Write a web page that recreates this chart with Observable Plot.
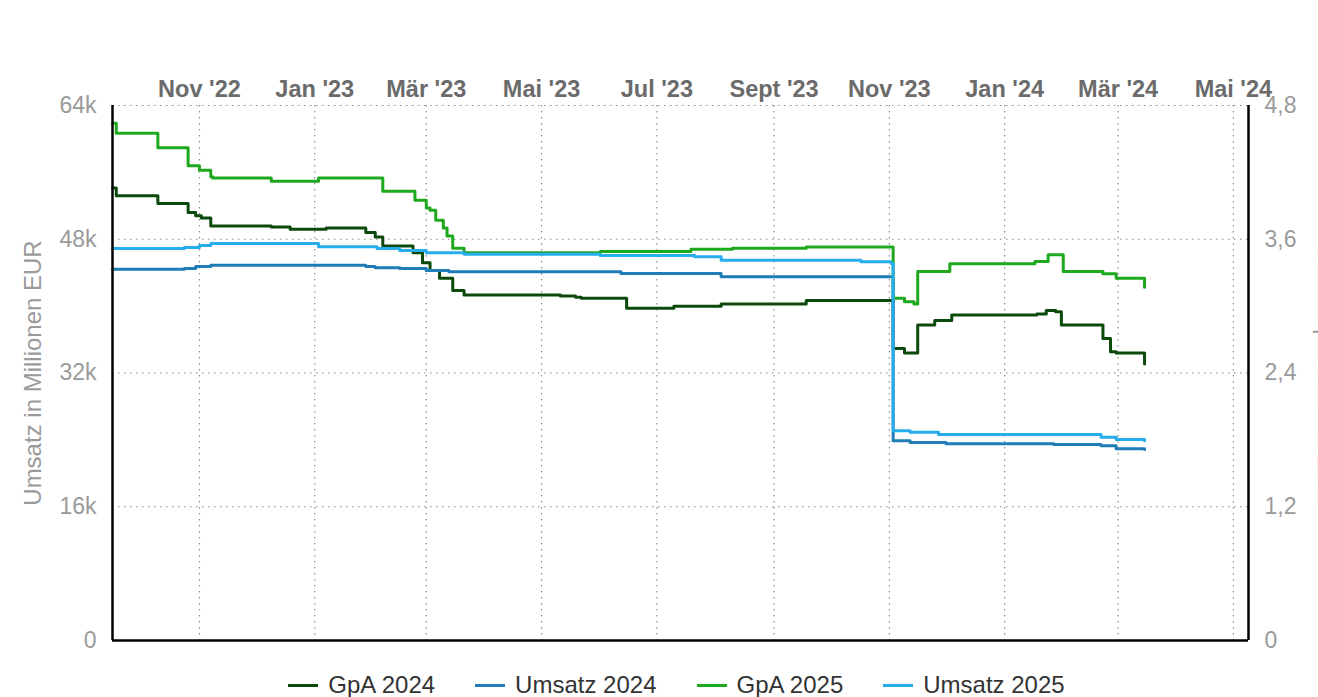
<!DOCTYPE html>
<html><head><meta charset="utf-8">
<script src="https://cdn.jsdelivr.net/npm/d3@7"></script>
<script src="https://cdn.jsdelivr.net/npm/@observablehq/plot@0.6"></script>
<style>
html,body{margin:0;padding:0;overflow:hidden;background:#fff;font-family:"Liberation Sans",Arial,sans-serif;}
#legend{display:flex;justify-content:center;align-items:center;padding-left:35px;padding-top:13px;height:24px;font-size:24px;color:#333;}
.item{display:flex;align-items:center;margin:0 20px;}
.sym{width:30px;height:3px;margin-right:10px;}
</style></head><body>
<div id="chart"></div>
<div id="legend"></div>
<script>
// ---- data ----
const seriesNames = ["GpA 2024", "Umsatz 2024", "GpA 2025", "Umsatz 2025"];
const seriesColors = ["#0c4a0c", "#1f7cb6", "#1ea81e", "#27acec"];

const gpa2024Dates = ["2022-09-16","2022-09-18","2022-10-10","2022-10-26","2022-10-30","2022-11-02","2022-11-07","2022-12-09","2022-12-19","2023-01-07","2023-01-28","2023-02-02","2023-02-06","2023-02-22","2023-02-27","2023-03-03","2023-03-08","2023-03-15","2023-03-21","2023-05-11","2023-05-19","2023-05-22","2023-06-15","2023-07-10","2023-08-04","2023-09-18","2023-11-03","2023-11-09","2023-11-16","2023-11-25","2023-12-04","2024-01-18","2024-01-23","2024-01-28","2024-01-31","2024-02-22","2024-02-26","2024-02-29","2024-03-14","2024-03-15"];
const gpa2024Values = [4.06,3.99,3.92,3.84,3.81,3.79,3.72,3.71,3.69,3.70,3.66,3.62,3.54,3.48,3.39,3.32,3.25,3.14,3.10,3.09,3.08,3.07,2.98,3.00,3.02,3.05,2.62,2.58,2.83,2.87,2.92,2.93,2.96,2.95,2.83,2.71,2.59,2.58,2.58,2.48];

const umsatz2024Dates = ["2022-09-16","2022-10-24","2022-10-30","2022-11-07","2023-01-28","2023-02-02","2023-02-15","2023-03-01","2023-03-13","2023-06-12","2023-08-04","2023-11-03","2023-11-12","2023-12-01","2024-01-27","2024-02-21","2024-02-29","2024-03-15"];
const umsatz2024Values = [44400,44500,44750,44900,44750,44600,44500,44250,44100,43900,43500,23900,23700,23550,23450,23300,22950,22850];

const gpa2025Dates = ["2022-09-16","2022-09-18","2022-10-10","2022-10-26","2022-11-01","2022-11-07","2022-11-08","2022-12-09","2023-01-03","2023-02-06","2023-02-23","2023-03-01","2023-03-03","2023-03-06","2023-03-10","2023-03-12","2023-03-15","2023-03-21","2023-06-01","2023-07-19","2023-08-10","2023-09-18","2023-11-03","2023-11-09","2023-11-14","2023-11-16","2023-12-03","2024-01-17","2024-01-24","2024-02-01","2024-02-22","2024-02-29","2024-03-14","2024-03-15"];
const gpa2025Values = [4.64,4.55,4.42,4.26,4.22,4.16,4.15,4.12,4.15,4.03,3.95,3.88,3.86,3.77,3.70,3.63,3.52,3.48,3.49,3.51,3.52,3.53,3.07,3.04,3.02,3.31,3.38,3.40,3.46,3.31,3.29,3.25,3.25,3.17];

const umsatz2025Dates = ["2022-09-16","2022-10-24","2022-11-01","2022-11-07","2023-01-03","2023-02-03","2023-02-15","2023-03-01","2023-03-21","2023-06-01","2023-07-21","2023-08-04","2023-10-17","2023-11-02","2023-11-03","2023-11-12","2023-11-27","2024-02-21","2024-02-29","2024-03-15"];
const umsatz2025Values = [46900,47000,47250,47500,47100,46900,46650,46400,46200,46050,45900,45500,45300,45100,25100,24900,24650,24300,24050,23900];

const xDomain = ["2022-09-16", "2024-05-09"];
const xTicks = ["2022-11-01","2023-01-01","2023-03-01","2023-05-01","2023-07-01","2023-09-01","2023-11-01","2024-01-01","2024-03-01","2024-05-01"];
const monthNames = ["Jan","Feb","Mär","Apr","Mai","Jun","Jul","Aug","Sept","Okt","Nov","Dez"];
const yTicksLeft = [0, 16000, 32000, 48000, 64000];
const leftMax = 64000, rightMax = 4.8;
const leftTitle = "Umsatz in Millionen EUR";
const rightTitle = "Gewinn pro Aktie in EUR";

// ---- build ----
const toLeft = v => v * leftMax / rightMax;
function rows(name, dates, values, isGpa) {
  return dates.map((d, i) => ({series: name, date: new Date(d), value: isGpa ? toLeft(values[i]) : values[i]}));
}
const data = [
  ...rows(seriesNames[0], gpa2024Dates, gpa2024Values, true),
  ...rows(seriesNames[1], umsatz2024Dates, umsatz2024Values, false),
  ...rows(seriesNames[2], gpa2025Dates, gpa2025Values, true),
  ...rows(seriesNames[3], umsatz2025Dates, umsatz2025Values, false)
];
const xd = xDomain.map(d => new Date(d));
const xt = xTicks.map(d => new Date(d));
const fmtX = d => `${monthNames[d.getUTCMonth()]} '${String(d.getUTCFullYear()).slice(2)}`;
const fmtL = d => d === 0 ? "0" : `${d / 1000}k`;
const fmtR = d => { const v = d / leftMax * rightMax; return v === 0 ? "0" : v.toFixed(1).replace(".", ","); };
const dots = {stroke: "#8a8a8a", strokeOpacity: 1, strokeDasharray: "1.5,4.5", strokeWidth: 1.2};

const chart = Plot.plot({
  width: 1318, height: 660,
  marginLeft: 112, marginRight: 70, marginTop: 105, marginBottom: 20,
  style: {fontFamily: "Liberation Sans, Arial, sans-serif", background: "#fff", overflow: "visible"},
  x: {type: "utc", domain: xd},
  y: {domain: [0, leftMax]},
  color: {domain: seriesNames, range: seriesColors},
  marks: [
    Plot.gridX(xt, {...dots}),
    Plot.gridY(yTicksLeft, {...dots}),
    Plot.axisX({anchor: "top", ticks: xt, tickSize: 0, tickPadding: 9, tickFormat: fmtX, label: null, fontSize: 23.5, fontWeight: "bold", fill: "#6b6b6b"}),
    Plot.axisY({anchor: "left", ticks: yTicksLeft, tickSize: 0, tickPadding: 16, tickFormat: fmtL, label: null, fontSize: 23, fill: "#9a9a9a"}),
    Plot.axisY({anchor: "right", ticks: yTicksLeft, tickSize: 0, tickPadding: 16, tickFormat: fmtR, label: null, fontSize: 23, fill: "#9a9a9a"}),
    Plot.text([leftTitle], {frameAnchor: "left", textAnchor: "middle", rotate: -90, dx: -79, fontSize: 24, fill: "#9a9a9a"}),
    Plot.text([rightTitle], {frameAnchor: "right", textAnchor: "middle", rotate: 90, dx: 77, fontSize: 24, fill: "#9a9a9a"}),
    Plot.line(data, {x: "date", y: "value", z: "series", stroke: "series", curve: "step-after", strokeWidth: 3}),
    Plot.ruleX([xd[0]], {stroke: "#000", strokeWidth: 2.5}),
    Plot.ruleX([xd[1]], {stroke: "#000", strokeWidth: 2.5}),
    Plot.ruleY([0], {stroke: "#000", strokeWidth: 2.5})
  ]
});
document.getElementById("chart").appendChild(chart);

const legend = document.getElementById("legend");
seriesNames.forEach((n, i) => {
  const it = document.createElement("div"); it.className = "item";
  const s = document.createElement("div"); s.className = "sym"; s.style.background = seriesColors[i];
  const t = document.createElement("span"); t.textContent = n;
  it.appendChild(s); it.appendChild(t); legend.appendChild(it);
});
</script>
</body></html>
